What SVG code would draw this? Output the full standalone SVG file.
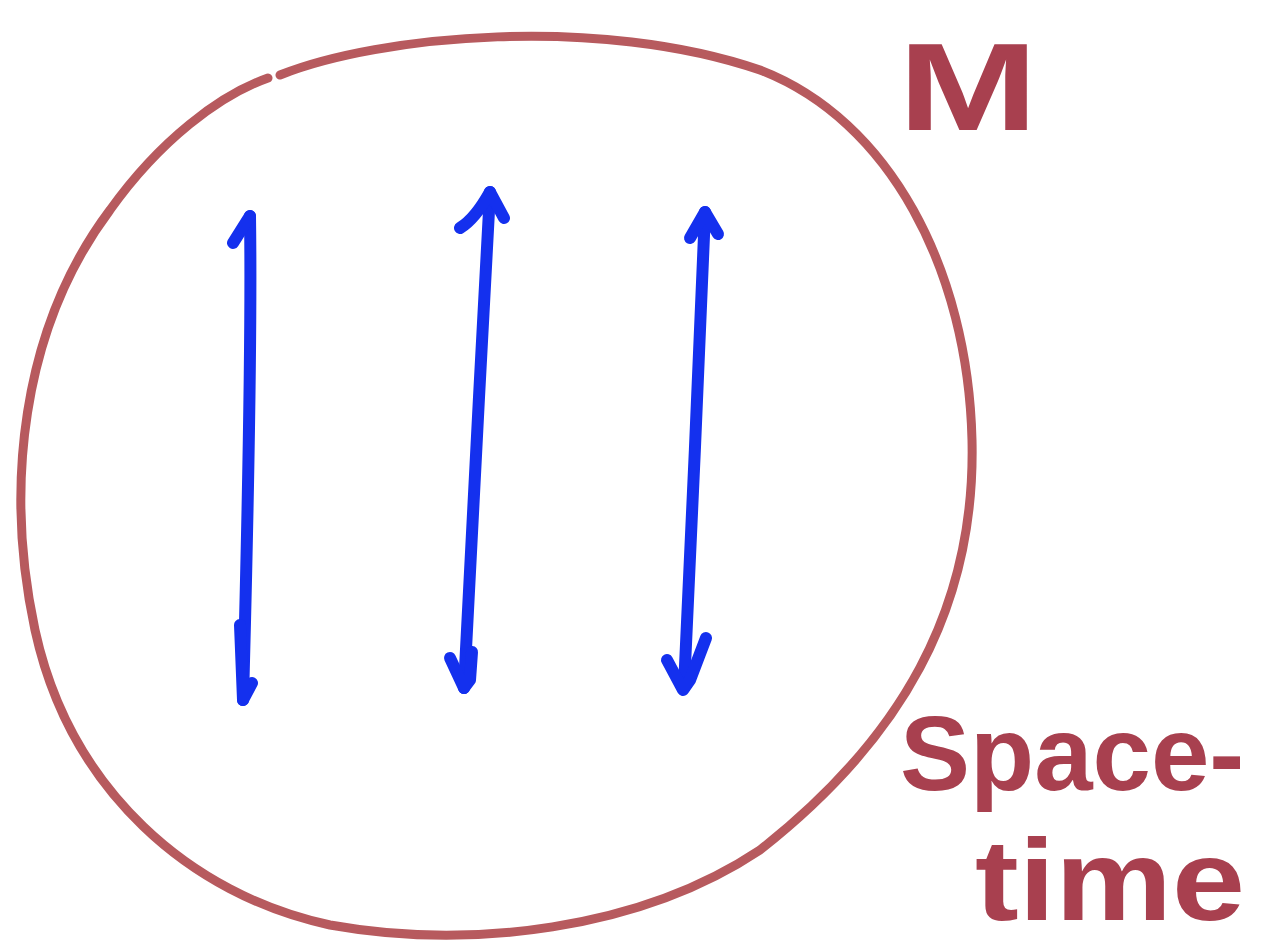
<svg xmlns="http://www.w3.org/2000/svg" width="1274" height="951" viewBox="0 0 1274 951">
<style>
.bound{fill:none;stroke:#b75a5e;stroke-width:9;stroke-linecap:round;stroke-linejoin:round}
.arr{fill:none;stroke:#1430ee;stroke-width:12;stroke-linecap:round;stroke-linejoin:round}
.lbl{fill:#a8404f;font-family:"Liberation Sans","DejaVu Sans",sans-serif;font-weight:bold}
</style>
<rect width="1274" height="951" fill="#ffffff"/>
<g id="spacetime-boundary">
<path class="bound" d="M 280,75 C 380,35 600,15 760,70 C 890,120 968,270 972,440 C 976,610 900,740 760,850 C 640,930 470,950 330,925 C 190,895 70,790 35,630 C 5,490 20,330 110,210 C 160,140 220,95 268,78"/>
</g>
<g id="arrows">
<path class="arr" d="M 250,216 C 252,350 247,550 243,700"/>
<path class="arr" d="M 233,243 L 250,216"/>
<path class="arr" d="M 240,625 L 243,700 L 252,683"/>
<path class="arr" d="M 490,192 C 482,350 470,550 464,688"/>
<path class="arr" d="M 460,228 C 470,222 480,210 490,192 L 504,218"/>
<path class="arr" d="M 450,658 L 464,688 L 470,680 L 472,652"/>
<path class="arr" d="M 705,212 C 700,350 690,550 684,688"/>
<path class="arr" d="M 690,238 L 705,212 L 718,234"/>
<path class="arr" d="M 667,660 L 683,690 L 690,680 L 706,638"/>
</g>
<g id="label-M">
<text class="lbl" x="898" y="130" font-size="125" textLength="140" lengthAdjust="spacingAndGlyphs">M</text>
</g>
<g id="label-spacetime">
<text class="lbl" x="900" y="790" font-size="105">Space-</text>
<text class="lbl" x="975" y="920" font-size="115" textLength="270" lengthAdjust="spacingAndGlyphs">time</text>
</g>
</svg>
